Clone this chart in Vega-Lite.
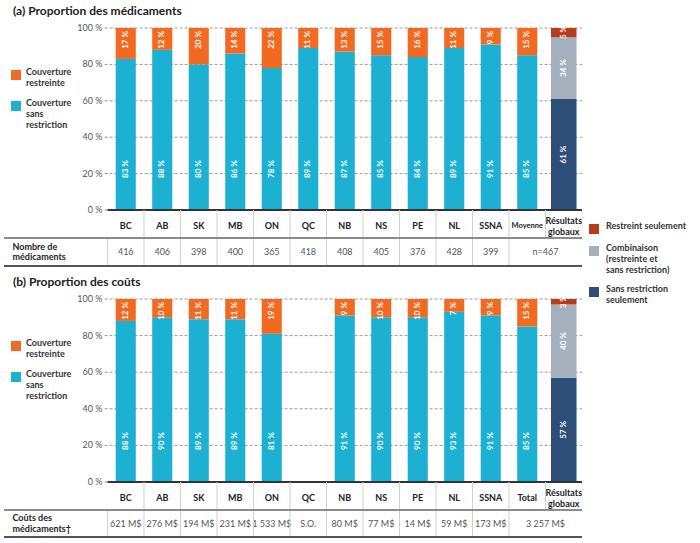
{
  "$schema": "https://vega.github.io/schema/vega-lite/v6.json",
  "padding": {"left": 3, "top": 5, "right": 0, "bottom": 0},
  "background": "white",
  "config": {
    "font": "Lato",
    "view": {"stroke": null},
    "axis": {"disable": true},
    "legend": {"labelFont": "Lato", "padding": 0},
    "text": {"font": "Lato"},
    "title": {"font": "Lato"}
  },
  "datasets": {
    "ticks": [{"v": 0}, {"v": 20}, {"v": 40}, {"v": 60}, {"v": 80}, {"v": 100}],
    "propA": [
      {"cat": "BC", "seg": "Couverture sans restriction", "value": 83}, {"cat": "BC", "seg": "Couverture restreinte", "value": 17},
      {"cat": "AB", "seg": "Couverture sans restriction", "value": 88}, {"cat": "AB", "seg": "Couverture restreinte", "value": 12},
      {"cat": "SK", "seg": "Couverture sans restriction", "value": 80}, {"cat": "SK", "seg": "Couverture restreinte", "value": 20},
      {"cat": "MB", "seg": "Couverture sans restriction", "value": 86}, {"cat": "MB", "seg": "Couverture restreinte", "value": 14},
      {"cat": "ON", "seg": "Couverture sans restriction", "value": 78}, {"cat": "ON", "seg": "Couverture restreinte", "value": 22},
      {"cat": "QC", "seg": "Couverture sans restriction", "value": 89}, {"cat": "QC", "seg": "Couverture restreinte", "value": 11},
      {"cat": "NB", "seg": "Couverture sans restriction", "value": 87}, {"cat": "NB", "seg": "Couverture restreinte", "value": 13},
      {"cat": "NS", "seg": "Couverture sans restriction", "value": 85}, {"cat": "NS", "seg": "Couverture restreinte", "value": 15},
      {"cat": "PE", "seg": "Couverture sans restriction", "value": 84}, {"cat": "PE", "seg": "Couverture restreinte", "value": 16},
      {"cat": "NL", "seg": "Couverture sans restriction", "value": 89}, {"cat": "NL", "seg": "Couverture restreinte", "value": 11},
      {"cat": "SSNA", "seg": "Couverture sans restriction", "value": 91}, {"cat": "SSNA", "seg": "Couverture restreinte", "value": 9},
      {"cat": "Moyenne", "seg": "Couverture sans restriction", "value": 85}, {"cat": "Moyenne", "seg": "Couverture restreinte", "value": 15}
    ],
    "globA": [
      {"cat": "Résultats globaux", "seg": "Sans restriction seulement", "value": 61},
      {"cat": "Résultats globaux", "seg": "Combinaison (restreinte et sans restriction)", "value": 34},
      {"cat": "Résultats globaux", "seg": "Restreint seulement", "value": 5}
    ],
    "hdrA": [
      {"cat": "BC"}, {"cat": "AB"}, {"cat": "SK"}, {"cat": "MB"}, {"cat": "ON"}, {"cat": "QC"}, {"cat": "NB"},
      {"cat": "NS"}, {"cat": "PE"}, {"cat": "NL"}, {"cat": "SSNA"}, {"cat": "Moyenne"}, {"cat": "Résultats globaux"}
    ],
    "valA": [
      {"cat": "BC", "row": "Nombre de médicaments", "val": "416"},
      {"cat": "AB", "row": "Nombre de médicaments", "val": "406"},
      {"cat": "SK", "row": "Nombre de médicaments", "val": "398"},
      {"cat": "MB", "row": "Nombre de médicaments", "val": "400"},
      {"cat": "ON", "row": "Nombre de médicaments", "val": "365"},
      {"cat": "QC", "row": "Nombre de médicaments", "val": "418"},
      {"cat": "NB", "row": "Nombre de médicaments", "val": "408"},
      {"cat": "NS", "row": "Nombre de médicaments", "val": "405"},
      {"cat": "PE", "row": "Nombre de médicaments", "val": "376"},
      {"cat": "NL", "row": "Nombre de médicaments", "val": "428"},
      {"cat": "SSNA", "row": "Nombre de médicaments", "val": "399"}
    ],
    "spanA": [{"cat": "Résultats globaux", "row": "Nombre de médicaments", "val": "n=467"}],
    "propB": [
      {"cat": "BC", "seg": "Couverture sans restriction", "value": 88}, {"cat": "BC", "seg": "Couverture restreinte", "value": 12},
      {"cat": "AB", "seg": "Couverture sans restriction", "value": 90}, {"cat": "AB", "seg": "Couverture restreinte", "value": 10},
      {"cat": "SK", "seg": "Couverture sans restriction", "value": 89}, {"cat": "SK", "seg": "Couverture restreinte", "value": 11},
      {"cat": "MB", "seg": "Couverture sans restriction", "value": 89}, {"cat": "MB", "seg": "Couverture restreinte", "value": 11},
      {"cat": "ON", "seg": "Couverture sans restriction", "value": 81}, {"cat": "ON", "seg": "Couverture restreinte", "value": 19},
      {"cat": "NB", "seg": "Couverture sans restriction", "value": 91}, {"cat": "NB", "seg": "Couverture restreinte", "value": 9},
      {"cat": "NS", "seg": "Couverture sans restriction", "value": 90}, {"cat": "NS", "seg": "Couverture restreinte", "value": 10},
      {"cat": "PE", "seg": "Couverture sans restriction", "value": 90}, {"cat": "PE", "seg": "Couverture restreinte", "value": 10},
      {"cat": "NL", "seg": "Couverture sans restriction", "value": 93}, {"cat": "NL", "seg": "Couverture restreinte", "value": 7},
      {"cat": "SSNA", "seg": "Couverture sans restriction", "value": 91}, {"cat": "SSNA", "seg": "Couverture restreinte", "value": 9},
      {"cat": "Total", "seg": "Couverture sans restriction", "value": 85}, {"cat": "Total", "seg": "Couverture restreinte", "value": 15}
    ],
    "globB": [
      {"cat": "Résultats globaux", "seg": "Sans restriction seulement", "value": 57},
      {"cat": "Résultats globaux", "seg": "Combinaison (restreinte et sans restriction)", "value": 40},
      {"cat": "Résultats globaux", "seg": "Restreint seulement", "value": 3}
    ],
    "hdrB": [
      {"cat": "BC"}, {"cat": "AB"}, {"cat": "SK"}, {"cat": "MB"}, {"cat": "ON"}, {"cat": "QC"}, {"cat": "NB"},
      {"cat": "NS"}, {"cat": "PE"}, {"cat": "NL"}, {"cat": "SSNA"}, {"cat": "Total"}, {"cat": "Résultats globaux"}
    ],
    "valB": [
      {"cat": "BC", "row": "Coûts des médicaments", "val": "621 M$"},
      {"cat": "AB", "row": "Coûts des médicaments", "val": "276 M$"},
      {"cat": "SK", "row": "Coûts des médicaments", "val": "194 M$"},
      {"cat": "MB", "row": "Coûts des médicaments", "val": "231 M$"},
      {"cat": "ON", "row": "Coûts des médicaments", "val": "1 533 M$"},
      {"cat": "QC", "row": "Coûts des médicaments", "val": "S.O."},
      {"cat": "NB", "row": "Coûts des médicaments", "val": "80 M$"},
      {"cat": "NS", "row": "Coûts des médicaments", "val": "77 M$"},
      {"cat": "PE", "row": "Coûts des médicaments", "val": "14 M$"},
      {"cat": "NL", "row": "Coûts des médicaments", "val": "59 M$"},
      {"cat": "SSNA", "row": "Coûts des médicaments", "val": "173 M$"}
    ],
    "spanB": [{"cat": "Résultats globaux", "row": "Coûts des médicaments", "val": "3 257 M$"}]
  },
  "spacing": 0,
  "bounds": "flush",
  "resolve": {"scale": {"color": "independent", "fill": "independent"}, "legend": {"color": "independent", "fill": "independent"}},
  "vconcat": [
    {
      "width": 578,
      "height": 182,
      "title": {"text": "(a) Proportion des médicaments", "anchor": "start", "frame": "group", "dx": 9, "offset": 6, "fontSize": 12, "fontWeight": "bold", "color": "#222"},
      "layer": [
        {
          "data": {"name": "ticks"},
          "mark": {"type": "rule", "color": "#9a9a9a", "strokeWidth": 1, "strokeDash": [3, 2]},
          "encoding": {
            "x": {"datum": "BC", "type": "nominal", "bandPosition": -0.08, "scale": {"type": "band", "domain": [" ", "BC", "AB", "SK", "MB", "ON", "QC", "NB", "NS", "PE", "NL", "SSNA", "Moyenne", "Résultats globaux"], "paddingInner": 0, "paddingOuter": 0.9178, "align": 1}},
            "x2": {"datum": "Résultats globaux", "bandPosition": 1},
            "y": {"field": "v", "type": "quantitative", "scale": {"domain": [0, 100], "nice": false}}
          }
        },
        {
          "data": {"name": "ticks"},
          "transform": [{"calculate": "datum.v + ' %'", "as": "lab"}],
          "mark": {"type": "text", "align": "right", "baseline": "middle", "dx": -5, "fontSize": 9, "color": "#555"},
          "encoding": {
            "x": {"datum": "BC", "type": "nominal", "bandPosition": 0, "scale": {"type": "band", "domain": [" ", "BC", "AB", "SK", "MB", "ON", "QC", "NB", "NS", "PE", "NL", "SSNA", "Moyenne", "Résultats globaux"], "paddingInner": 0, "paddingOuter": 0.9178, "align": 1}},
            "y": {"field": "v", "type": "quantitative"},
            "text": {"field": "lab"}
          }
        },
        {
          "data": {"name": "propA"},
          "mark": {"type": "bar", "width": {"band": 0.55}},
          "encoding": {
            "x": {"field": "cat", "type": "nominal", "scale": {"type": "band", "domain": [" ", "BC", "AB", "SK", "MB", "ON", "QC", "NB", "NS", "PE", "NL", "SSNA", "Moyenne", "Résultats globaux"], "paddingInner": 0, "paddingOuter": 0.9178, "align": 1}},
            "y": {"field": "value", "type": "quantitative", "stack": "zero"},
            "color": {"field": "seg", "type": "nominal", "scale": {"domain": ["Couverture restreinte", "Couverture sans restriction"], "range": ["#F26A22", "#1CB0D2"]}, "legend": {"orient": "none", "legendX": 7, "legendY": 42, "title": null, "symbolType": "square", "symbolSize": 100, "symbolStrokeWidth": 0, "labelFontSize": 9, "labelFontWeight": "bold", "labelColor": "#333", "labelBaseline": "alphabetic", "labelLineHeight": 10, "labelOffset": 5, "rowPadding": 11, "labelLimit": 200, "labelExpr": "datum.label == 'Couverture restreinte' ? ['Couverture', 'restreinte'] : ['Couverture', 'sans', 'restriction']"}},
            "order": {"field": "value", "sort": "descending"}
          }
        },
        {
          "data": {"name": "globA"},
          "transform": [{"stack": "value", "groupby": ["cat"], "sort": [{"field": "value", "order": "descending"}], "as": ["v0", "v1"]}],
          "mark": {"type": "bar", "width": {"band": 0.7}},
          "encoding": {
            "x": {"field": "cat", "type": "nominal", "scale": {"type": "band", "domain": [" ", "BC", "AB", "SK", "MB", "ON", "QC", "NB", "NS", "PE", "NL", "SSNA", "Moyenne", "Résultats globaux"], "paddingInner": 0, "paddingOuter": 0.9178, "align": 1}},
            "y": {"field": "v0", "type": "quantitative"},
            "y2": {"field": "v1"},
            "fill": {"field": "seg", "type": "nominal", "scale": {"domain": ["Restreint seulement", "Combinaison (restreinte et sans restriction)", "Sans restriction seulement"], "range": ["#B83C1C", "#A5B0BE", "#2D4E78"]}, "legend": {"orient": "none", "legendX": 585, "legendY": 196, "title": null, "symbolType": "square", "symbolSize": 100, "symbolStrokeWidth": 0, "labelFontSize": 9, "labelFontWeight": "bold", "labelColor": "#333", "labelBaseline": "alphabetic", "labelLineHeight": 10.5, "labelOffset": 7, "rowPadding": 10, "labelLimit": 200, "labelExpr": "datum.label == 'Combinaison (restreinte et sans restriction)' ? ['Combinaison', '(restreinte et', 'sans restriction)'] : datum.label == 'Sans restriction seulement' ? ['Sans restriction', 'seulement'] : datum.label"}}
          }
        },
        {
          "data": {"name": "ticks"},
          "transform": [{"filter": "datum.v == 0"}],
          "mark": {"type": "rule", "color": "#333", "strokeWidth": 2},
          "encoding": {
            "x": {"datum": "BC", "type": "nominal", "bandPosition": 0, "scale": {"type": "band", "domain": [" ", "BC", "AB", "SK", "MB", "ON", "QC", "NB", "NS", "PE", "NL", "SSNA", "Moyenne", "Résultats globaux"], "paddingInner": 0, "paddingOuter": 0.9178, "align": 1}},
            "x2": {"datum": "Résultats globaux", "bandPosition": 1},
            "y": {"field": "v", "type": "quantitative"}
          }
        },
        {
          "data": {"name": "propA"},
          "transform": [{"filter": "datum.seg == 'Couverture restreinte'"}, {"calculate": "datum.value + ' %'", "as": "lbl"}],
          "mark": {"type": "text", "angle": 270, "align": "right", "baseline": "middle", "dx": -3, "fontSize": 8, "fontWeight": "bold", "color": "white"},
          "encoding": {
            "x": {"field": "cat", "type": "nominal", "scale": {"type": "band", "domain": [" ", "BC", "AB", "SK", "MB", "ON", "QC", "NB", "NS", "PE", "NL", "SSNA", "Moyenne", "Résultats globaux"], "paddingInner": 0, "paddingOuter": 0.9178, "align": 1}},
            "y": {"datum": 100, "type": "quantitative"},
            "text": {"field": "lbl"}
          }
        },
        {
          "data": {"name": "propA"},
          "transform": [{"filter": "datum.seg == 'Couverture sans restriction'"}, {"calculate": "datum.value + ' %'", "as": "lbl"}],
          "mark": {"type": "text", "angle": 270, "align": "left", "baseline": "middle", "dx": 32, "fontSize": 8, "fontWeight": "bold", "color": "white"},
          "encoding": {
            "x": {"field": "cat", "type": "nominal", "scale": {"type": "band", "domain": [" ", "BC", "AB", "SK", "MB", "ON", "QC", "NB", "NS", "PE", "NL", "SSNA", "Moyenne", "Résultats globaux"], "paddingInner": 0, "paddingOuter": 0.9178, "align": 1}},
            "y": {"datum": 0, "type": "quantitative"},
            "text": {"field": "lbl"}
          }
        },
        {
          "data": {"name": "globA"},
          "transform": [{"stack": "value", "groupby": ["cat"], "sort": [{"field": "value", "order": "descending"}], "as": ["v0", "v1"]}, {"calculate": "(datum.v0 + datum.v1) / 2", "as": "mid"}, {"calculate": "datum.value + ' %'", "as": "lbl"}],
          "mark": {"type": "text", "angle": 270, "align": "center", "baseline": "middle", "fontSize": 8, "fontWeight": "bold", "color": "white"},
          "encoding": {
            "x": {"field": "cat", "type": "nominal", "scale": {"type": "band", "domain": [" ", "BC", "AB", "SK", "MB", "ON", "QC", "NB", "NS", "PE", "NL", "SSNA", "Moyenne", "Résultats globaux"], "paddingInner": 0, "paddingOuter": 0.9178, "align": 1}},
            "y": {"field": "mid", "type": "quantitative"},
            "text": {"field": "lbl"}
          }
        }
      ]
    },
    {
      "width": 578,
      "height": 28,
      "data": {"name": "hdrA"},
      "layer": [
        {
          "transform": [{"filter": "datum.cat != 'Résultats globaux'"}],
          "mark": {"type": "text", "fontWeight": "bold", "color": "#222", "baseline": "middle", "dy": 2},
          "encoding": {
            "x": {"field": "cat", "type": "nominal", "scale": {"type": "band", "domain": [" ", "BC", "AB", "SK", "MB", "ON", "QC", "NB", "NS", "PE", "NL", "SSNA", "Moyenne", "Résultats globaux"], "paddingInner": 0, "paddingOuter": 0.9178, "align": 1}},
            "size": {"condition": {"test": "datum.cat == 'Moyenne'", "value": 7.5}, "value": 9},
            "text": {"field": "cat"}
          }
        },
        {
          "transform": [{"filter": "datum.cat == 'Résultats globaux'"}],
          "mark": {"type": "text", "fontWeight": "bold", "color": "#222", "lineBreak": " ", "lineHeight": 11, "baseline": "middle", "dy": -3.5, "fontSize": 9},
          "encoding": {
            "x": {"field": "cat", "type": "nominal", "scale": {"type": "band", "domain": [" ", "BC", "AB", "SK", "MB", "ON", "QC", "NB", "NS", "PE", "NL", "SSNA", "Moyenne", "Résultats globaux"], "paddingInner": 0, "paddingOuter": 0.9178, "align": 1}},
            "text": {"field": "cat"}
          }
        },
        {
          "transform": [{"filter": "datum.cat != 'BC'"}],
          "mark": {"type": "rule", "color": "#d0d0d0", "strokeWidth": 1},
          "encoding": {
            "x": {"field": "cat", "type": "nominal", "bandPosition": 0, "scale": {"type": "band", "domain": [" ", "BC", "AB", "SK", "MB", "ON", "QC", "NB", "NS", "PE", "NL", "SSNA", "Moyenne", "Résultats globaux"], "paddingInner": 0, "paddingOuter": 0.9178, "align": 1}}
          }
        }
      ]
    },
    {
      "width": 578,
      "height": 28,
      "layer": [
        {
          "data": {"name": "valA"},
          "mark": {"type": "text", "fontSize": 9, "color": "#555"},
          "encoding": {
            "x": {"field": "cat", "type": "nominal", "scale": {"type": "band", "domain": [" ", "BC", "AB", "SK", "MB", "ON", "QC", "NB", "NS", "PE", "NL", "SSNA", "Moyenne", "Résultats globaux"], "paddingInner": 0, "paddingOuter": 0.9178, "align": 1}},
            "y": {"field": "row", "type": "nominal", "scale": {"type": "band", "domain": ["Nombre de médicaments"], "paddingInner": 0, "paddingOuter": 0}},
            "text": {"field": "val"}
          }
        },
        {
          "data": {"name": "spanA"},
          "mark": {"type": "text", "fontSize": 9, "color": "#555"},
          "encoding": {
            "x": {"field": "cat", "type": "nominal", "bandPosition": 0, "scale": {"type": "band", "domain": [" ", "BC", "AB", "SK", "MB", "ON", "QC", "NB", "NS", "PE", "NL", "SSNA", "Moyenne", "Résultats globaux"], "paddingInner": 0, "paddingOuter": 0.9178, "align": 1}},
            "y": {"field": "row", "type": "nominal"},
            "text": {"field": "val"}
          }
        },
        {
          "data": {"name": "spanA"},
          "mark": {"type": "text", "fontSize": 9, "fontWeight": "bold", "color": "#222", "align": "left", "baseline": "middle", "dx": -95, "dy": -5.25, "lineHeight": 10.5},
          "encoding": {
            "x": {"datum": "BC", "type": "nominal", "bandPosition": 0, "scale": {"type": "band", "domain": [" ", "BC", "AB", "SK", "MB", "ON", "QC", "NB", "NS", "PE", "NL", "SSNA", "Moyenne", "Résultats globaux"], "paddingInner": 0, "paddingOuter": 0.9178, "align": 1}},
            "y": {"field": "row", "type": "nominal"},
            "text": {"value": ["Nombre de", "médicaments"]}
          }
        },
        {
          "data": {"name": "hdrA"},
          "transform": [{"filter": "datum.cat != 'Résultats globaux'"}],
          "mark": {"type": "rule", "color": "#d0d0d0", "strokeWidth": 1},
          "encoding": {
            "x": {"field": "cat", "type": "nominal", "bandPosition": 0, "scale": {"type": "band", "domain": [" ", "BC", "AB", "SK", "MB", "ON", "QC", "NB", "NS", "PE", "NL", "SSNA", "Moyenne", "Résultats globaux"], "paddingInner": 0, "paddingOuter": 0.9178, "align": 1}}
          }
        },
        {
          "data": {"name": "spanA"},
          "mark": {"type": "rule", "color": "#8c8c8c", "strokeWidth": 2},
          "encoding": {"y": {"field": "row", "type": "nominal", "bandPosition": 0}}
        },
        {
          "data": {"name": "spanA"},
          "mark": {"type": "rule", "color": "#555", "strokeWidth": 2},
          "encoding": {"y": {"field": "row", "type": "nominal", "bandPosition": 1}}
        }
      ]
    },
    {
      "width": 578,
      "height": 33,
      "data": {"values": [{"t": ""}]},
      "mark": {"type": "text"},
      "encoding": {"text": {"field": "t"}}
    },
    {
      "width": 578,
      "height": 183,
      "title": {"text": "(b) Proportion des coûts", "anchor": "start", "frame": "group", "dx": 9, "offset": 6, "fontSize": 12, "fontWeight": "bold", "color": "#222"},
      "layer": [
        {
          "data": {"name": "ticks"},
          "mark": {"type": "rule", "color": "#9a9a9a", "strokeWidth": 1, "strokeDash": [3, 2]},
          "encoding": {
            "x": {"datum": "BC", "type": "nominal", "bandPosition": -0.08, "scale": {"type": "band", "domain": [" ", "BC", "AB", "SK", "MB", "ON", "QC", "NB", "NS", "PE", "NL", "SSNA", "Total", "Résultats globaux"], "paddingInner": 0, "paddingOuter": 0.9178, "align": 1}},
            "x2": {"datum": "Résultats globaux", "bandPosition": 1},
            "y": {"field": "v", "type": "quantitative", "scale": {"domain": [0, 100], "nice": false}}
          }
        },
        {
          "data": {"name": "ticks"},
          "transform": [{"calculate": "datum.v + ' %'", "as": "lab"}],
          "mark": {"type": "text", "align": "right", "baseline": "middle", "dx": -5, "fontSize": 9, "color": "#555"},
          "encoding": {
            "x": {"datum": "BC", "type": "nominal", "bandPosition": 0, "scale": {"type": "band", "domain": [" ", "BC", "AB", "SK", "MB", "ON", "QC", "NB", "NS", "PE", "NL", "SSNA", "Total", "Résultats globaux"], "paddingInner": 0, "paddingOuter": 0.9178, "align": 1}},
            "y": {"field": "v", "type": "quantitative"},
            "text": {"field": "lab"}
          }
        },
        {
          "data": {"name": "propB"},
          "mark": {"type": "bar", "width": {"band": 0.55}},
          "encoding": {
            "x": {"field": "cat", "type": "nominal", "scale": {"type": "band", "domain": [" ", "BC", "AB", "SK", "MB", "ON", "QC", "NB", "NS", "PE", "NL", "SSNA", "Total", "Résultats globaux"], "paddingInner": 0, "paddingOuter": 0.9178, "align": 1}},
            "y": {"field": "value", "type": "quantitative", "stack": "zero"},
            "color": {"field": "seg", "type": "nominal", "scale": {"domain": ["Couverture restreinte", "Couverture sans restriction"], "range": ["#F26A22", "#1CB0D2"]}, "legend": {"orient": "none", "legendX": 7, "legendY": 42, "title": null, "symbolType": "square", "symbolSize": 100, "symbolStrokeWidth": 0, "labelFontSize": 9, "labelFontWeight": "bold", "labelColor": "#333", "labelBaseline": "alphabetic", "labelLineHeight": 10, "labelOffset": 5, "rowPadding": 11, "labelLimit": 200, "labelExpr": "datum.label == 'Couverture restreinte' ? ['Couverture', 'restreinte'] : ['Couverture', 'sans', 'restriction']"}},
            "order": {"field": "value", "sort": "descending"}
          }
        },
        {
          "data": {"name": "globB"},
          "transform": [{"stack": "value", "groupby": ["cat"], "sort": [{"field": "value", "order": "descending"}], "as": ["v0", "v1"]}],
          "mark": {"type": "bar", "width": {"band": 0.7}},
          "encoding": {
            "x": {"field": "cat", "type": "nominal", "scale": {"type": "band", "domain": [" ", "BC", "AB", "SK", "MB", "ON", "QC", "NB", "NS", "PE", "NL", "SSNA", "Total", "Résultats globaux"], "paddingInner": 0, "paddingOuter": 0.9178, "align": 1}},
            "y": {"field": "v0", "type": "quantitative"},
            "y2": {"field": "v1"},
            "fill": {"field": "seg", "type": "nominal", "scale": {"domain": ["Restreint seulement", "Combinaison (restreinte et sans restriction)", "Sans restriction seulement"], "range": ["#B83C1C", "#A5B0BE", "#2D4E78"]}, "legend": null}
          }
        },
        {
          "data": {"name": "ticks"},
          "transform": [{"filter": "datum.v == 0"}],
          "mark": {"type": "rule", "color": "#333", "strokeWidth": 2},
          "encoding": {
            "x": {"datum": "BC", "type": "nominal", "bandPosition": 0, "scale": {"type": "band", "domain": [" ", "BC", "AB", "SK", "MB", "ON", "QC", "NB", "NS", "PE", "NL", "SSNA", "Total", "Résultats globaux"], "paddingInner": 0, "paddingOuter": 0.9178, "align": 1}},
            "x2": {"datum": "Résultats globaux", "bandPosition": 1},
            "y": {"field": "v", "type": "quantitative"}
          }
        },
        {
          "data": {"name": "propB"},
          "transform": [{"filter": "datum.seg == 'Couverture restreinte'"}, {"calculate": "datum.value + ' %'", "as": "lbl"}],
          "mark": {"type": "text", "angle": 270, "align": "right", "baseline": "middle", "dx": -3, "fontSize": 8, "fontWeight": "bold", "color": "white"},
          "encoding": {
            "x": {"field": "cat", "type": "nominal", "scale": {"type": "band", "domain": [" ", "BC", "AB", "SK", "MB", "ON", "QC", "NB", "NS", "PE", "NL", "SSNA", "Total", "Résultats globaux"], "paddingInner": 0, "paddingOuter": 0.9178, "align": 1}},
            "y": {"datum": 100, "type": "quantitative"},
            "text": {"field": "lbl"}
          }
        },
        {
          "data": {"name": "propB"},
          "transform": [{"filter": "datum.seg == 'Couverture sans restriction'"}, {"calculate": "datum.value + ' %'", "as": "lbl"}],
          "mark": {"type": "text", "angle": 270, "align": "left", "baseline": "middle", "dx": 32, "fontSize": 8, "fontWeight": "bold", "color": "white"},
          "encoding": {
            "x": {"field": "cat", "type": "nominal", "scale": {"type": "band", "domain": [" ", "BC", "AB", "SK", "MB", "ON", "QC", "NB", "NS", "PE", "NL", "SSNA", "Total", "Résultats globaux"], "paddingInner": 0, "paddingOuter": 0.9178, "align": 1}},
            "y": {"datum": 0, "type": "quantitative"},
            "text": {"field": "lbl"}
          }
        },
        {
          "data": {"name": "globB"},
          "transform": [{"stack": "value", "groupby": ["cat"], "sort": [{"field": "value", "order": "descending"}], "as": ["v0", "v1"]}, {"calculate": "(datum.v0 + datum.v1) / 2", "as": "mid"}, {"calculate": "datum.value + ' %'", "as": "lbl"}],
          "mark": {"type": "text", "angle": 270, "align": "center", "baseline": "middle", "fontSize": 8, "fontWeight": "bold", "color": "white"},
          "encoding": {
            "x": {"field": "cat", "type": "nominal", "scale": {"type": "band", "domain": [" ", "BC", "AB", "SK", "MB", "ON", "QC", "NB", "NS", "PE", "NL", "SSNA", "Total", "Résultats globaux"], "paddingInner": 0, "paddingOuter": 0.9178, "align": 1}},
            "y": {"field": "mid", "type": "quantitative"},
            "text": {"field": "lbl"}
          }
        }
      ]
    },
    {
      "width": 578,
      "height": 28,
      "data": {"name": "hdrB"},
      "layer": [
        {
          "transform": [{"filter": "datum.cat != 'Résultats globaux'"}],
          "mark": {"type": "text", "fontWeight": "bold", "color": "#222", "baseline": "middle", "dy": 2, "fontSize": 9},
          "encoding": {
            "x": {"field": "cat", "type": "nominal", "scale": {"type": "band", "domain": [" ", "BC", "AB", "SK", "MB", "ON", "QC", "NB", "NS", "PE", "NL", "SSNA", "Total", "Résultats globaux"], "paddingInner": 0, "paddingOuter": 0.9178, "align": 1}},
            "text": {"field": "cat"}
          }
        },
        {
          "transform": [{"filter": "datum.cat == 'Résultats globaux'"}],
          "mark": {"type": "text", "fontWeight": "bold", "color": "#222", "lineBreak": " ", "lineHeight": 11, "baseline": "middle", "dy": -3.5, "fontSize": 9},
          "encoding": {
            "x": {"field": "cat", "type": "nominal", "scale": {"type": "band", "domain": [" ", "BC", "AB", "SK", "MB", "ON", "QC", "NB", "NS", "PE", "NL", "SSNA", "Total", "Résultats globaux"], "paddingInner": 0, "paddingOuter": 0.9178, "align": 1}},
            "text": {"field": "cat"}
          }
        },
        {
          "transform": [{"filter": "datum.cat != 'BC'"}],
          "mark": {"type": "rule", "color": "#d0d0d0", "strokeWidth": 1},
          "encoding": {
            "x": {"field": "cat", "type": "nominal", "bandPosition": 0, "scale": {"type": "band", "domain": [" ", "BC", "AB", "SK", "MB", "ON", "QC", "NB", "NS", "PE", "NL", "SSNA", "Total", "Résultats globaux"], "paddingInner": 0, "paddingOuter": 0.9178, "align": 1}}
          }
        }
      ]
    },
    {
      "width": 578,
      "height": 27,
      "layer": [
        {
          "data": {"name": "valB"},
          "mark": {"type": "text", "fontSize": 9, "color": "#555"},
          "encoding": {
            "x": {"field": "cat", "type": "nominal", "scale": {"type": "band", "domain": [" ", "BC", "AB", "SK", "MB", "ON", "QC", "NB", "NS", "PE", "NL", "SSNA", "Total", "Résultats globaux"], "paddingInner": 0, "paddingOuter": 0.9178, "align": 1}},
            "y": {"field": "row", "type": "nominal", "scale": {"type": "band", "domain": ["Coûts des médicaments"], "paddingInner": 0, "paddingOuter": 0}},
            "text": {"field": "val"}
          }
        },
        {
          "data": {"name": "spanB"},
          "mark": {"type": "text", "fontSize": 9, "color": "#555"},
          "encoding": {
            "x": {"field": "cat", "type": "nominal", "bandPosition": 0, "scale": {"type": "band", "domain": [" ", "BC", "AB", "SK", "MB", "ON", "QC", "NB", "NS", "PE", "NL", "SSNA", "Total", "Résultats globaux"], "paddingInner": 0, "paddingOuter": 0.9178, "align": 1}},
            "y": {"field": "row", "type": "nominal"},
            "text": {"field": "val"}
          }
        },
        {
          "data": {"name": "spanB"},
          "mark": {"type": "text", "fontSize": 9, "fontWeight": "bold", "color": "#222", "align": "left", "baseline": "middle", "dx": -95, "dy": -5.25, "lineHeight": 10.5},
          "encoding": {
            "x": {"datum": "BC", "type": "nominal", "bandPosition": 0, "scale": {"type": "band", "domain": [" ", "BC", "AB", "SK", "MB", "ON", "QC", "NB", "NS", "PE", "NL", "SSNA", "Total", "Résultats globaux"], "paddingInner": 0, "paddingOuter": 0.9178, "align": 1}},
            "y": {"field": "row", "type": "nominal"},
            "text": {"value": ["Coûts des", "médicaments†"]}
          }
        },
        {
          "data": {"name": "hdrB"},
          "transform": [{"filter": "datum.cat != 'Résultats globaux'"}],
          "mark": {"type": "rule", "color": "#d0d0d0", "strokeWidth": 1},
          "encoding": {
            "x": {"field": "cat", "type": "nominal", "bandPosition": 0, "scale": {"type": "band", "domain": [" ", "BC", "AB", "SK", "MB", "ON", "QC", "NB", "NS", "PE", "NL", "SSNA", "Total", "Résultats globaux"], "paddingInner": 0, "paddingOuter": 0.9178, "align": 1}}
          }
        },
        {
          "data": {"name": "spanB"},
          "mark": {"type": "rule", "color": "#8c8c8c", "strokeWidth": 2},
          "encoding": {"y": {"field": "row", "type": "nominal", "bandPosition": 0}}
        },
        {
          "data": {"name": "spanB"},
          "mark": {"type": "rule", "color": "#555", "strokeWidth": 2},
          "encoding": {"y": {"field": "row", "type": "nominal", "bandPosition": 1}}
        }
      ]
    }
  ]
}
